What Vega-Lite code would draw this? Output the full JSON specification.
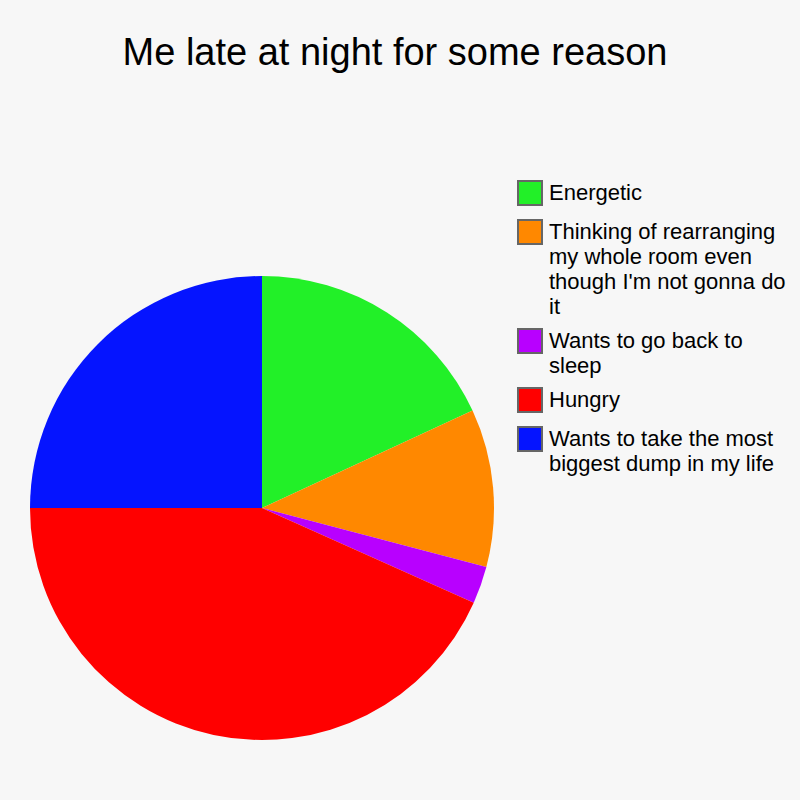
{
  "$schema": "https://vega.github.io/schema/vega-lite/v6.json",
  "autosize": "none",
  "width": 524,
  "height": 464,
  "padding": {"left": 0, "top": 276, "right": 276, "bottom": 60},
  "background": "#f7f7f7",
  "title": {
    "text": "Me late at night for some reason",
    "font": "Liberation Sans",
    "fontSize": 38,
    "fontWeight": "normal",
    "color": "#000000",
    "anchor": "middle",
    "frame": "group",
    "dx": 133,
    "offset": 107
  },
  "config": {
    "view": {"stroke": null},
    "style": {"guide-label": {"lineHeight": 25}}
  },
  "data": {
    "values": [
      {"category": "Energetic", "value": 18.1, "rank": 1},
      {"category": "Thinking of rearranging my whole room even though I'm not gonna do it", "value": 11.0, "rank": 2},
      {"category": "Wants to go back to sleep", "value": 2.6, "rank": 3},
      {"category": "Hungry", "value": 43.3, "rank": 4},
      {"category": "Wants to take the most biggest dump in my life", "value": 25.0, "rank": 5}
    ]
  },
  "mark": {"type": "arc"},
  "encoding": {
    "theta": {"field": "value", "type": "quantitative", "stack": true},
    "order": {"field": "rank", "type": "quantitative"},
    "color": {
      "field": "category",
      "type": "nominal",
      "scale": {
        "domain": ["Energetic", "Thinking of rearranging my whole room even though I'm not gonna do it", "Wants to go back to sleep", "Hungry", "Wants to take the most biggest dump in my life"],
        "range": ["#22f028", "#ff8800", "#b800ff", "#ff0000", "#0514ff"]
      },
      "legend": {
        "title": null,
        "orient": "none",
        "legendX": 517,
        "legendY": -96,
        "symbolType": "square",
        "symbolSize": 576,
        "symbolStrokeColor": "#666666",
        "symbolStrokeWidth": 2,
        "symbolOpacity": 1,
        "labelFont": "Liberation Sans",
        "labelFontSize": 22,
        "labelColor": "#000000",
        "labelLimit": 400,
        "labelOffset": 6,
        "labelBaseline": "top",
        "rowPadding": 7,
        "encode": {"labels": {"update": {"dy": {"value": -10}}}},
        "labelExpr": "indexof(datum.value, 'Thinking') == 0 ? ['Thinking of rearranging', 'my whole room even', \"though I'm not gonna do\", 'it'] : indexof(datum.value, 'Wants to go') == 0 ? ['Wants to go back to', 'sleep'] : indexof(datum.value, 'Wants to take') == 0 ? ['Wants to take the most', 'biggest dump in my life'] : datum.value"
      }
    }
  }
}
